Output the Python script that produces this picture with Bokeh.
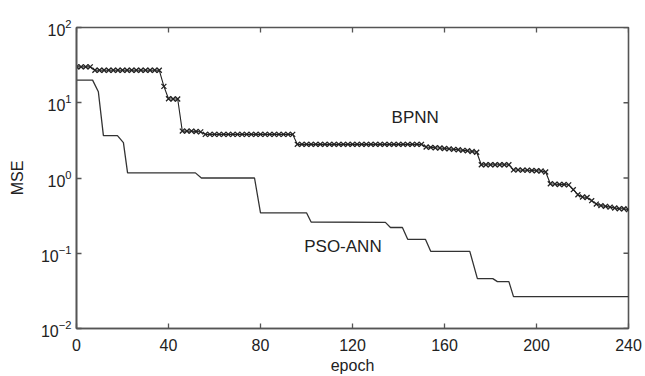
from bokeh.plotting import figure
from bokeh.models import Range1d, FixedTicker
from bokeh.core.properties import value
from bokeh.embed import file_html
from bokeh.resources import INLINE

# ---- data ----
bp_epoch = list(range(0, 241, 2))
bp_mse = [30, 30, 30, 30,
          27, 27, 27, 27, 27, 27, 27, 27, 27, 27, 27, 27, 27, 27, 27,
          16.5, 11.3, 11.2, 11.2,
          4.2, 4.2, 4.2, 4.15, 4.1,
          3.8, 3.8, 3.8, 3.8, 3.8, 3.8, 3.8, 3.8, 3.8, 3.8,
          3.8, 3.8, 3.8, 3.8, 3.8, 3.8, 3.8, 3.8, 3.8, 3.8,
          2.8, 2.8, 2.8, 2.8, 2.8, 2.8, 2.8, 2.8, 2.8, 2.8,
          2.8, 2.8, 2.8, 2.8, 2.8, 2.8, 2.8, 2.8, 2.8, 2.8,
          2.8, 2.8, 2.8, 2.8, 2.8, 2.8, 2.8, 2.8,
          2.58, 2.55, 2.52, 2.5, 2.47, 2.44, 2.4, 2.37, 2.33, 2.3, 2.25, 2.2,
          1.5, 1.5, 1.5, 1.5, 1.5, 1.5, 1.5,
          1.28, 1.28, 1.27, 1.27, 1.26, 1.25, 1.24, 1.2,
          0.84, 0.83, 0.82, 0.82, 0.81,
          0.7, 0.6, 0.56, 0.55, 0.5, 0.45, 0.43, 0.42, 0.41, 0.4, 0.39, 0.39, 0.38]

pso_epoch = [0, 7, 9.5, 11.7, 17.8, 20.4, 22.2, 51.7, 54.3, 77.4, 80, 100, 102,
             134.3, 136.5, 141.7, 144, 151.7, 154, 171, 174.3, 181, 183, 188, 190, 240]
pso_mse = [20, 20, 14, 3.65, 3.65, 2.95, 1.17, 1.17, 1.0, 1.0, 0.345, 0.345, 0.26,
           0.257, 0.22, 0.22, 0.153, 0.153, 0.106, 0.106, 0.046, 0.046, 0.042, 0.042,
           0.0265, 0.0265]

x_ticks = [0, 40, 80, 120, 160, 200, 240]
y_ticks = [0.01, 0.1, 1, 10, 100]

FONT = "Liberation Sans"
AX = "#555555"
TXT = "#222222"

W, H = 645, 376
BL, BR, BT, BB = 76, 17, 27, 45
TICK = 5  # inside tick length in px

p = figure(width=W, height=H, output_backend="svg", toolbar_location=None,
           y_axis_type="log", x_range=Range1d(0, 240), y_range=Range1d(0.01, 100),
           min_border_left=BL, min_border_right=BR, min_border_top=BT,
           min_border_bottom=BB)
p.outline_line_color = AX
p.outline_line_width = 1.6
p.xgrid.visible = False
p.ygrid.visible = False
p.background_fill_color = "white"
p.border_fill_color = "white"

p.line(pso_epoch, pso_mse, line_color="#333333", line_width=1.3)
p.line(bp_epoch, bp_mse, line_color="#222222", line_width=1.1)
p.scatter(bp_epoch, bp_mse, marker="x", size=7, line_color="#222222", line_width=1.3)

# inside ticks on the top and right edges: short lines (px length -> data units)
frame_w = W - BL - BR
frame_h = H - BT - BB
dx = TICK * (x_ticks[-1] - x_ticks[0]) / frame_w
dlog = TICK * (len(y_ticks) - 1) / frame_h
ytop = y_ticks[-1]
xright = x_ticks[-1]
for t in x_ticks:
    p.line([t, t], [ytop, ytop / 10 ** dlog], line_color=AX, line_width=1.3)
for t in y_ticks:
    p.line([xright, xright - dx], [t, t], line_color=AX, line_width=1.3)

def style(ax):
    ax.axis_line_color = AX
    ax.axis_line_width = 1.6
    ax.major_tick_line_color = AX
    ax.major_tick_line_width = 1.3
    ax.major_tick_in = TICK
    ax.major_tick_out = 0
    ax.minor_tick_line_color = None
    ax.major_label_text_font = FONT
    ax.major_label_text_font_size = "16px"
    ax.major_label_text_color = TXT
    ax.axis_label_text_font = FONT
    ax.axis_label_text_font_size = "16px"
    ax.axis_label_text_font_style = "normal"
    ax.axis_label_text_color = TXT

xa = p.xaxis[0]
xa.ticker = FixedTicker(ticks=x_ticks)
xa.axis_label = "epoch"
xa.axis_label_standoff = 3
xa.major_label_standoff = 10
style(xa)

ya = p.yaxis[0]
ya.ticker = FixedTicker(ticks=y_ticks)
ya.axis_label = "MSE"
ya.major_label_standoff = 5
ya.axis_label_standoff = 12
style(ya)

p.text(x=[137], y=[6.3], text=["BPNN"], text_font=value(FONT), text_font_size="17px",
       text_color=TXT, text_baseline="middle", text_align="left")
p.text(x=[99], y=[0.123], text=["PSO-ANN"], text_font=value(FONT), text_font_size="17px",
       text_color=TXT, text_baseline="middle", text_align="left")

open("out.html", "w").write(file_html(p, INLINE))
